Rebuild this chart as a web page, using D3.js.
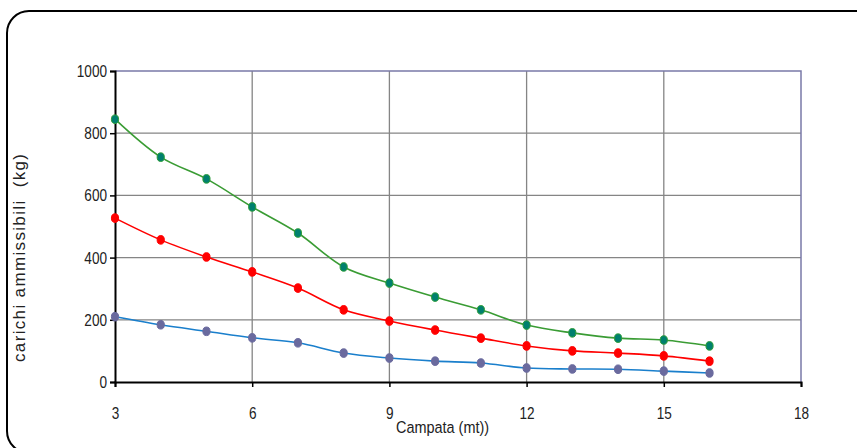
<!DOCTYPE html>
<html>
<head>
<meta charset="utf-8">
<script src="https://cdn.jsdelivr.net/npm/d3@7"></script>
<style>
  body { margin: 0; background: #fff; }
  svg text { font-family: "Liberation Sans", Arial, sans-serif; }
</style>
</head>
<body>
<svg width="857" height="448"></svg>
<script>
// campata (mt) - 3..16
const campata = [3, 4, 5, 6, 7, 8, 9, 10, 11, 12, 13, 14, 15, 16];
const caricoVerde = [845, 723, 653, 563, 479, 370, 318, 273, 232, 183, 158, 141, 135, 116];
const caricoRosso = [527, 457, 402, 354, 302, 232, 196, 167, 141, 116, 100, 93, 84, 67];
const caricoBlu = [210, 184, 163, 142, 126, 93, 77, 67, 61, 45, 42, 41, 35, 29];
const xTicks = [3, 6, 9, 12, 15, 18];
const yTicks = [0, 200, 400, 600, 800, 1000];

const svg = d3.select("svg");

// cornice arrotondata
svg.append("rect")
    .attr("x", 7).attr("y", 11)
    .attr("width", 880).attr("height", 442)
    .attr("rx", 22).attr("ry", 22)
    .attr("fill", "none")
    .attr("stroke", "#000")
    .attr("stroke-width", 2);

const x = d3.scaleLinear().domain([3, 18]).range([115, 801]);
const y = d3.scaleLinear().domain([0, 1000]).range([382, 71]);

// griglia
svg.append("g").selectAll("line")
    .data(xTicks.slice(1, -1))
    .enter().append("line")
    .attr("x1", d => x(d)).attr("x2", d => x(d))
    .attr("y1", y(1000)).attr("y2", y(0))
    .attr("stroke", "#858585").attr("stroke-width", 1.3);
svg.append("g").selectAll("line")
    .data(yTicks.slice(1, -1))
    .enter().append("line")
    .attr("x1", x(3)).attr("x2", x(18))
    .attr("y1", d => y(d)).attr("y2", d => y(d))
    .attr("stroke", "#858585").attr("stroke-width", 1.3);
// bordo superiore e destro
svg.append("path")
    .attr("d", `M${x(3)},${y(1000)}H${x(18)}V${y(0)}`)
    .attr("fill", "none")
    .attr("stroke", "#7a7aa8").attr("stroke-width", 1.5);

// assi
const xAxis = svg.append("g")
    .attr("transform", `translate(0,${y(0)})`)
    .call(d3.axisBottom(x).tickValues(xTicks).tickSize(5).tickPadding(20));
const yAxis = svg.append("g")
    .attr("transform", `translate(${x(3)},0)`)
    .call(d3.axisLeft(y).tickValues(yTicks).tickFormat(d3.format("d")).tickSize(5));
[xAxis, yAxis].forEach(g => {
    g.select(".domain").attr("stroke", "#000").attr("stroke-width", 2);
    g.selectAll(".tick line").attr("stroke", "#000").attr("stroke-width", 1.5);
    g.selectAll("text").attr("font-size", 17).attr("fill", "#222")
        .style("font-family", "'Liberation Sans', Arial, sans-serif")
        .attr("transform", "scale(0.8,1)");
});
yAxis.selectAll("text").attr("x", -10);

// serie
const series = [
    {values: caricoVerde, line: "#3a9c34", fill: "#00806e", stroke: "#2e9e3a"},
    {values: caricoRosso, line: "#ff0000", fill: "#ff0000", stroke: "#ff0000"},
    {values: caricoBlu, line: "#1a7fcc", fill: "#6a6a9e", stroke: "#6a6a9e"}
];
const line = d3.line()
    .x(d => x(d[0])).y(d => y(d[1]))
    .curve(d3.curveCatmullRom.alpha(0.5));

series.forEach(s => {
    const pts = campata.map((c, i) => [c, s.values[i]]);
    svg.append("path")
        .datum(pts)
        .attr("d", line)
        .attr("fill", "none")
        .attr("stroke", s.line)
        .attr("stroke-width", 1.6);
    svg.append("g").selectAll("ellipse")
        .data(pts)
        .enter().append("ellipse")
        .attr("cx", d => x(d[0])).attr("cy", d => y(d[1]))
        .attr("rx", 3.6).attr("ry", 4.3)
        .attr("fill", s.fill)
        .attr("stroke", s.stroke).attr("stroke-width", 1);
});

// titoli assi
svg.append("text")
    .attr("transform", "translate(25,258) rotate(-90)")
    .attr("text-anchor", "middle")
    .attr("font-size", 17)
    .attr("fill", "#222")
    .attr("textLength", 208)
    .attr("lengthAdjust", "spacing")
    .style("white-space", "pre")
    .text("carichi ammissibili  (kg)");
svg.append("text")
    .attr("transform", "translate(396,433) scale(0.85,1)")
    .attr("font-size", 17)
    .attr("fill", "#222")
    .text("Campata (mt))");
</script>
</body>
</html>
